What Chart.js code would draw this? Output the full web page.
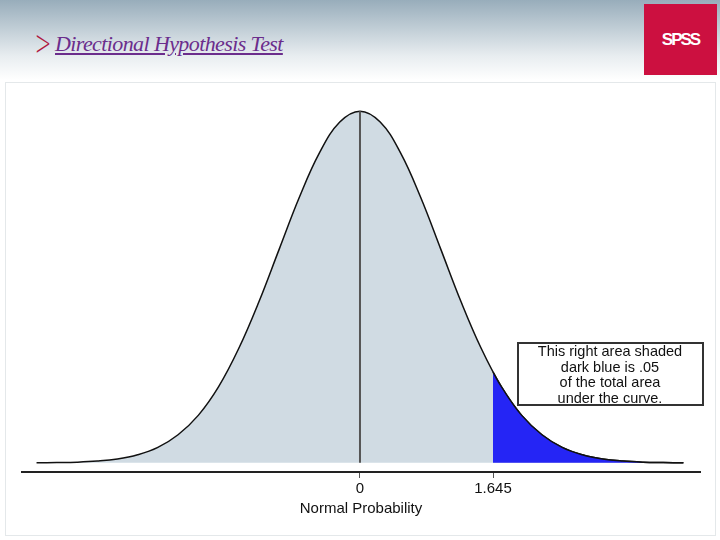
<!DOCTYPE html>
<html>
<head>
<meta charset="utf-8">
<script src="https://cdn.jsdelivr.net/npm/chart.js@4.4.0/dist/chart.umd.min.js"></script>
<style>
  body { margin: 0; width: 720px; height: 540px; overflow: hidden; background: #fff; position: relative; font-family: "DejaVu Serif", serif; }
  .header { position: absolute; left: 0; top: 0; width: 720px; height: 80px; background: linear-gradient(#98adbb, #e8edf0 70%, #fff); }
  .chev { position: absolute; left: 28px; top: 22px; color: #b01840; font-size: 36px; font-family: "DejaVu Sans"; font-weight: 200; transform: scaleX(0.55); }
  .title { position: absolute; left: 55px; top: 31px; color: #6b2d8c; font-style: italic; font-size: 22px; text-decoration: underline; letter-spacing: -0.6px; font-family: "Liberation Serif", serif; }
  .logo { position: absolute; left: 644px; top: 4px; width: 73px; height: 71px; background: #cc1040; color: #fff; font: bold 17px "Liberation Sans", sans-serif; letter-spacing: -2px; text-align: center; line-height: 71px; }
  .panel { position: absolute; left: 5px; top: 82px; width: 709px; height: 452px; border: 1px solid #e4e8ea; }
  canvas { position: absolute; left: 0; top: 0; }
</style>
</head>
<body>
<div class="header"></div>
<div class="chev">&gt;</div>
<div class="title">Directional Hypothesis Test</div>
<div class="logo">SPSS</div>
<div class="panel"></div>
<canvas id="c" width="720" height="540"></canvas>
<script>
// curve, height relative to the peak
const zValues = [-4, -3.75, -3.5, -3.25, -3, -2.75, -2.5, -2.25, -2, -1.75, -1.5, -1.25, -1, -0.75, -0.5, -0.25, 0,
                 0.25, 0.5, 0.75, 1, 1.25, 1.5, 1.75, 2, 2.25, 2.5, 2.75, 3, 3.25, 3.5, 3.75, 4];
const heights = [0.0003, 0.0009, 0.002, 0.005, 0.011, 0.023, 0.044, 0.08, 0.135, 0.216, 0.325, 0.458, 0.607, 0.755, 0.882, 0.969, 1,
                 0.969, 0.882, 0.755, 0.607, 0.458, 0.325, 0.216, 0.135, 0.08, 0.044, 0.023, 0.011, 0.005, 0.002, 0.0009, 0.0003];
const tailZ = [1.645, 1.75, 2, 2.25, 2.5, 2.75, 3, 3.25, 3.5, 3.75, 4];
const tailHeights = [0.258, 0.216, 0.135, 0.08, 0.044, 0.023, 0.011, 0.005, 0.002, 0.0009, 0.0003];
const tickValues = [0, 1.645];
const tickLabels = ['0', '1.645'];
const note = ['This right area shaded', 'dark blue is .05', 'of the total area', 'under the curve.'];

const curve = zValues.map((z, i) => ({x: z, y: heights[i]}));
const tail = tailZ.map((z, i) => ({x: z, y: tailHeights[i]}));
const centre = [{x: 0, y: 0}, {x: 0, y: 1}];

const noteBox = {
    id: 'noteBox',
    afterDraw(chart) {
        const ctx = chart.ctx;
        ctx.save();
        ctx.fillStyle = '#fff';
        ctx.strokeStyle = '#333';
        ctx.lineWidth = 2;
        ctx.fillRect(518, 343, 185, 62);
        ctx.strokeRect(518, 343, 185, 62);
        ctx.fillStyle = '#111';
        ctx.font = '14.5px "Liberation Sans", sans-serif';
        ctx.textAlign = 'center';
        ctx.textBaseline = 'middle';
        note.forEach((t, i) => ctx.fillText(t, 610, 352 + i * 15.5));
        ctx.restore();
    }
};

new Chart(document.getElementById('c'), {
    type: 'line',
    data: {
        datasets: [
            {data: centre, borderColor: '#555', borderWidth: 2, pointRadius: 0, fill: false, order: 0},
            {data: tail, borderColor: '#111', borderWidth: 1.5, backgroundColor: '#2525f5', pointRadius: 0, tension: 0.4, fill: 'origin', order: 1},
            {data: curve, borderColor: '#111', borderWidth: 1.5, backgroundColor: '#d0dbe3', pointRadius: 0, tension: 0.4, fill: 'origin', order: 2}
        ]
    },
    options: {
        responsive: false,
        animation: false,
        layout: {padding: {left: 22, right: 20, top: 83, bottom: 22}},
        plugins: {legend: {display: false}, tooltip: {enabled: false}},
        scales: {
            x: {
                type: 'linear', min: -4.18, max: 4.205,
                afterBuildTicks: (axis) => { axis.ticks = tickValues.map(v => ({value: v})); },
                ticks: {
                    callback: (v) => tickLabels[tickValues.indexOf(v)],
                    color: '#111', font: {family: 'Liberation Sans', size: 15}, padding: 2, autoSkip: false, maxRotation: 0
                },
                grid: {drawOnChartArea: false, tickLength: 6, color: '#555'},
                border: {color: '#222', width: 2},
                title: {display: true, text: 'Normal Probability', color: '#111', font: {family: 'Liberation Sans', size: 15}, padding: 0}
            },
            y: {display: false, min: -0.026, max: 1.08}
        }
    },
    plugins: [noteBox]
});
</script>
</body>
</html>
